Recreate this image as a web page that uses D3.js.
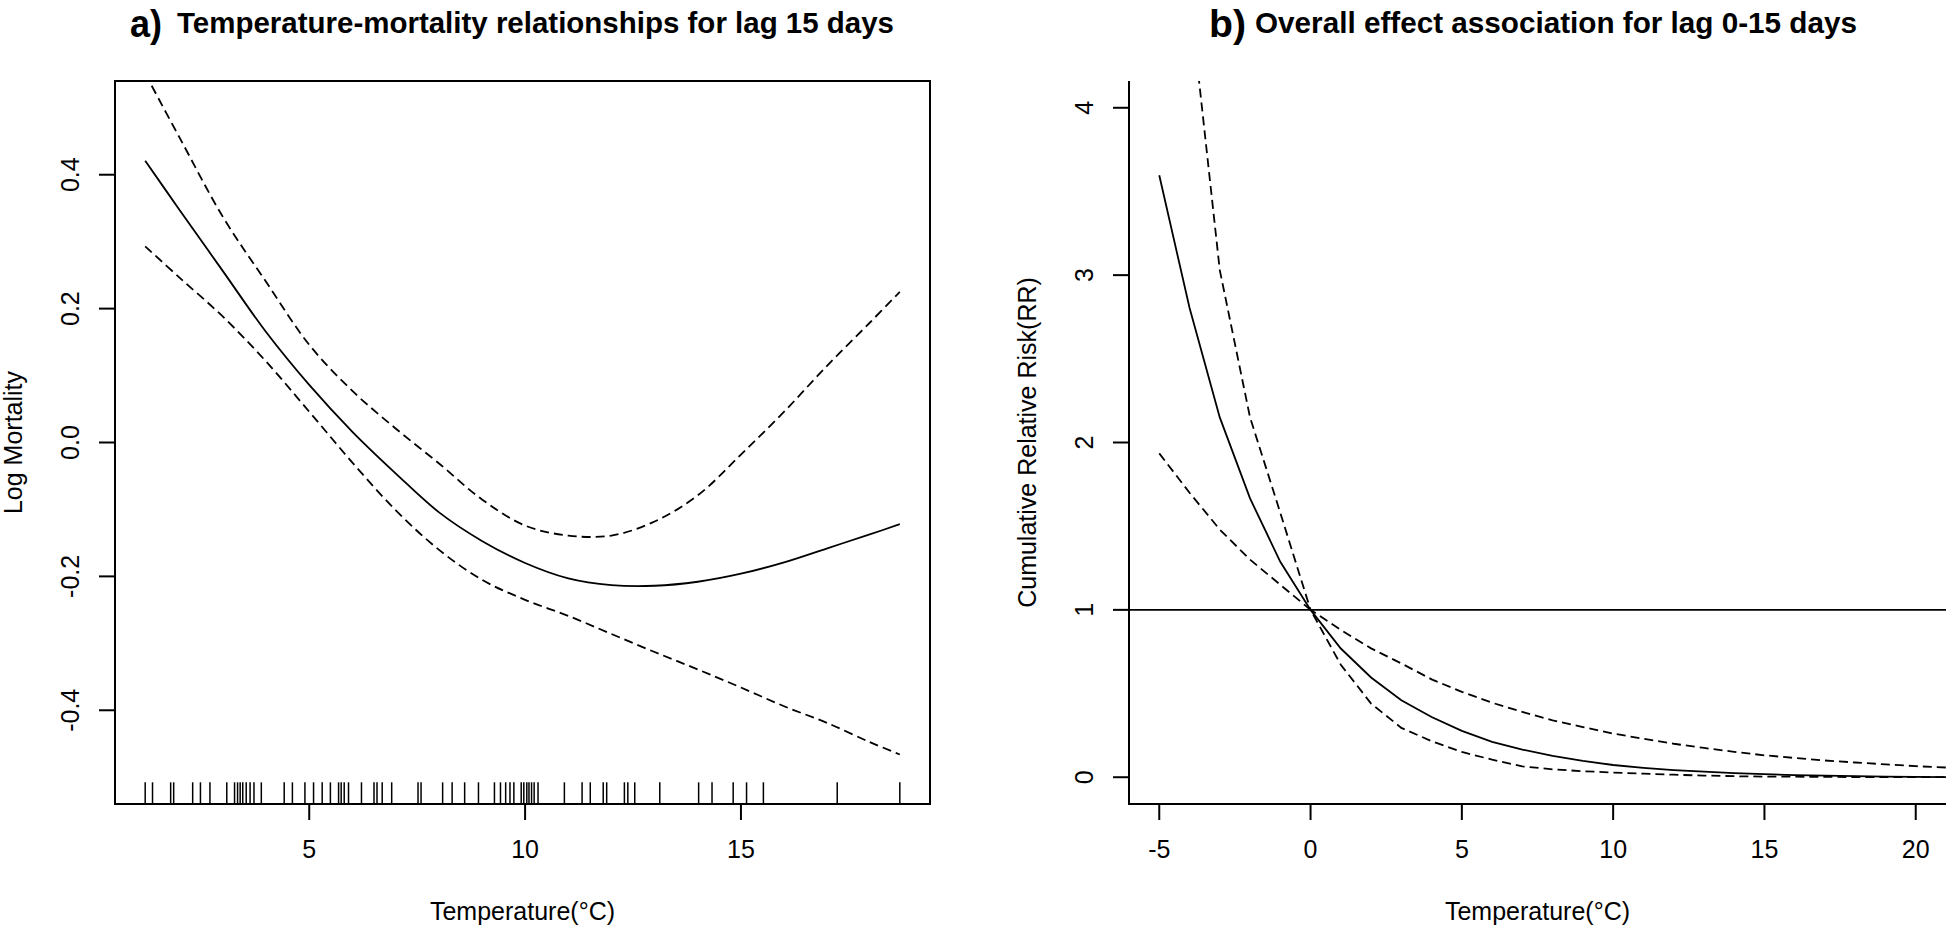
<!DOCTYPE html>
<html>
<head>
<meta charset="utf-8">
<title>Temperature-mortality</title>
<script src="https://d3js.org/d3.v7.min.js"></script>
<style>
  body { margin: 0; background: #fff; }
  svg { display: block; font-family: "Liberation Sans", Arial, Helvetica, sans-serif; }
  .box, .axisline { fill: none; stroke: #000; stroke-width: 2; }
  .tick { stroke: #000; stroke-width: 2; }
  .rug { stroke: #000; stroke-width: 1.5; }
  .fit { fill: none; stroke: #000; stroke-width: 1.8; }
  .ci { fill: none; stroke: #000; stroke-width: 1.8; stroke-dasharray: 9,5; }
  .lbl { font-size: 25px; fill: #000; }
  .ttl { font-family: "Liberation Sans Narrow", "Liberation Sans", Arial, sans-serif; font-weight: bold; fill: #000; }
</style>
</head>
<body>
<svg width="1946" height="926"></svg>
<script>
// ---- panel a: lag 15 days ----
const lagTemps = [1.2, 2, 3, 4, 5, 6, 7, 8, 9, 10, 11, 12, 13, 14, 15, 16, 17, 18, 18.68];
const lagFit  = [0.421, 0.347, 0.256, 0.165, 0.086, 0.016, -0.046, -0.104, -0.147, -0.180, -0.203, -0.213, -0.214, -0.208, -0.196, -0.179, -0.158, -0.137, -0.122];
const lagHigh = [0.551, 0.455, 0.337, 0.240, 0.146, 0.077, 0.021, -0.031, -0.085, -0.124, -0.139, -0.139, -0.118, -0.079, -0.018, 0.046, 0.115, 0.180, 0.225];
const lagLow  = [0.293, 0.246, 0.188, 0.121, 0.046, -0.030, -0.101, -0.160, -0.205, -0.235, -0.259, -0.286, -0.313, -0.339, -0.366, -0.394, -0.419, -0.448, -0.466];
const rugTemps = [1.2, 1.37, 1.79, 1.86, 2.30, 2.48, 2.70, 3.09, 3.27, 3.34, 3.40, 3.46, 3.54, 3.63, 3.72, 3.89,
  4.42, 4.61, 4.90, 5.10, 5.30, 5.49, 5.68, 5.74, 5.81, 5.91, 6.21, 6.50, 6.57, 6.69, 6.91, 7.52, 7.59,
  8.09, 8.31, 8.60, 8.92, 9.29, 9.43, 9.55, 9.65, 9.74, 9.91, 9.97, 10.04, 10.09, 10.15, 10.21, 10.30,
  10.91, 11.32, 11.51, 11.81, 11.89, 12.30, 12.38, 12.54, 13.12, 14.02, 14.33, 14.82, 15.13, 15.52, 17.23, 18.68];
const lagXTicks = [5, 10, 15];
const lagYTicks = [-0.4, -0.2, 0.0, 0.2, 0.4];
const lagYLim = [-0.5, 0.5];

// ---- panel b: cumulative lag 0-15 ----
const cumTemps = [-5, -4, -3, -2, -1, 0, 1, 2, 3, 4, 5, 6, 7, 8, 9, 10, 11, 12, 13, 14, 15, 16, 17, 18, 19, 20, 21];
const cumFit  = [3.597, 2.805, 2.15, 1.666, 1.287, 1.0, 0.769, 0.596, 0.460, 0.360, 0.277, 0.211, 0.165, 0.128, 0.098, 0.073, 0.056, 0.043, 0.033, 0.025, 0.018, 0.013, 0.009, 0.006, 0.004, 0.002, 0.001];
const cumHigh = [7.2, 4.68, 3.03, 2.15, 1.58, 1.0, 0.88, 0.77, 0.68, 0.585, 0.51, 0.445, 0.39, 0.34, 0.30, 0.261, 0.23, 0.20, 0.175, 0.152, 0.131, 0.115, 0.10, 0.088, 0.077, 0.066, 0.058];
const cumLow  = [1.935, 1.70, 1.48, 1.30, 1.15, 1.0, 0.672, 0.44, 0.295, 0.215, 0.151, 0.105, 0.065, 0.047, 0.036, 0.028, 0.021, 0.015, 0.010, 0.006, 0.004, 0.003, 0.002, 0.001, 0.001, 0.0, 0.0];
const cumXTicks = [-5, 0, 5, 10, 15, 20];
const cumYTicks = [0, 1, 2, 3, 4];
const cumXLim = [-5, 20];
const cumYLim = [0, 4];
const refRR = 1;

const svg = d3.select("svg");
const plotTop = 81, plotBottom = 804;

// R style 4% axis extension
function ext(r) { const d = (r[1] - r[0]) * 0.04; return [r[0] - d, r[1] + d]; }

function panel(opt) {
  const g = svg.append("g");
  const x = d3.scaleLinear().domain(opt.xdom).range([opt.left, opt.right]);
  const y = d3.scaleLinear().domain(opt.ydom).range([plotBottom, plotTop]);

  const clipId = "clip" + opt.id;
  svg.append("clipPath").attr("id", clipId).append("rect")
    .attr("x", opt.left).attr("y", plotTop)
    .attr("width", opt.right - opt.left).attr("height", plotBottom - plotTop);

  const plot = g.append("g").attr("clip-path", `url(#${clipId})`);
  const line = d3.line().x(d => x(d[0])).y(d => y(d[1])).curve(opt.curve);

  opt.series.forEach(s => {
    plot.append("path")
      .attr("class", s.cls)
      .attr("stroke-dasharray", s.dash || null)
      .attr("d", line(opt.xs.map((v, i) => [v, s.vals[i]])));
  });

  if (opt.hline != null) {
    plot.append("line").attr("class", "fit")
      .attr("x1", opt.left).attr("x2", opt.right)
      .attr("y1", y(opt.hline)).attr("y2", y(opt.hline));
  }

  if (opt.rug) {
    const rugLen = (plotBottom - plotTop) * 0.03;
    plot.selectAll(".rug").data(opt.rug).join("line")
      .attr("class", "rug")
      .attr("x1", d => x(d)).attr("x2", d => x(d))
      .attr("y1", plotBottom).attr("y2", plotBottom - rugLen);
  }

  // frame
  if (opt.fullBox) {
    g.append("rect").attr("class", "box")
      .attr("x", opt.left).attr("y", plotTop)
      .attr("width", opt.right - opt.left).attr("height", plotBottom - plotTop);
  } else {
    g.append("path").attr("class", "axisline")
      .attr("d", `M${opt.left},${plotTop}V${plotBottom}H${opt.right}`);
  }

  // x axis
  g.selectAll(".xt").data(opt.xticks).join("line")
    .attr("class", "tick")
    .attr("x1", d => x(d)).attr("x2", d => x(d))
    .attr("y1", plotBottom).attr("y2", plotBottom + 16);
  g.selectAll(".xl").data(opt.xticks).join("text")
    .attr("class", "lbl")
    .attr("x", d => x(d)).attr("y", plotBottom + 54)
    .attr("text-anchor", "middle")
    .text(d => String(d));

  // y axis
  g.selectAll(".yt").data(opt.yticks).join("line")
    .attr("class", "tick")
    .attr("x1", opt.left - 16).attr("x2", opt.left)
    .attr("y1", d => y(d)).attr("y2", d => y(d));
  g.selectAll(".yl").data(opt.yticks).join("text")
    .attr("class", "lbl")
    .attr("transform", d => `translate(${opt.left - 36},${y(d)}) rotate(-90)`)
    .attr("text-anchor", "middle")
    .text(opt.yfmt);

  // axis titles
  g.append("text").attr("class", "lbl")
    .attr("x", (opt.left + opt.right) / 2).attr("y", 920)
    .attr("text-anchor", "middle")
    .text(opt.xlab);
  g.append("text").attr("class", "lbl")
    .attr("transform", `translate(${opt.left - 93},${(plotTop + plotBottom) / 2}) rotate(-90)`)
    .attr("text-anchor", "middle")
    .text(opt.ylab);

  // main title
  g.append("text").attr("class", "ttl")
    .attr("x", opt.tag[0]).attr("y", 37)
    .attr("font-size", 38)
    .attr("textLength", opt.tag[1] - opt.tag[0]).attr("lengthAdjust", "spacingAndGlyphs")
    .text(opt.tagText);
  g.append("text").attr("class", "ttl")
    .attr("x", opt.title[0]).attr("y", 33)
    .attr("font-size", 30)
    .attr("textLength", opt.title[1] - opt.title[0]).attr("lengthAdjust", "spacingAndGlyphs")
    .text(opt.titleText);
}

panel({
  id: "a", left: 115, right: 930,
  xdom: ext(d3.extent(lagTemps)), ydom: ext(lagYLim),
  xs: lagTemps,
  curve: d3.curveCatmullRom,
  series: [
    { vals: lagFit, cls: "fit" },
    { vals: lagHigh, cls: "ci", dash: "10,5" },
    { vals: lagLow, cls: "ci", dash: "10,5" }
  ],
  rug: rugTemps,
  fullBox: true,
  xticks: lagXTicks, yticks: lagYTicks,
  yfmt: d => d.toFixed(1),
  xlab: "Temperature(\u00B0C)", ylab: "Log Mortality",
  tag: [130, 162], tagText: "a)",
  title: [177, 894], titleText: "Temperature-mortality relationships for lag 15 days"
});

panel({
  id: "b", left: 1129, right: 1946,
  xdom: ext(cumXLim), ydom: ext(cumYLim),
  xs: cumTemps,
  curve: d3.curveLinear,
  series: [
    { vals: cumFit, cls: "fit" },
    { vals: cumHigh, cls: "ci" },
    { vals: cumLow, cls: "ci" }
  ],
  hline: refRR,
  fullBox: false,
  xticks: cumXTicks, yticks: cumYTicks,
  yfmt: d => String(d),
  xlab: "Temperature(\u00B0C)", ylab: "Cumulative Relative Risk(RR)",
  tag: [1209, 1246], tagText: "b)",
  title: [1255, 1857], titleText: "Overall effect association for lag 0-15 days"
});
</script>
</body>
</html>
